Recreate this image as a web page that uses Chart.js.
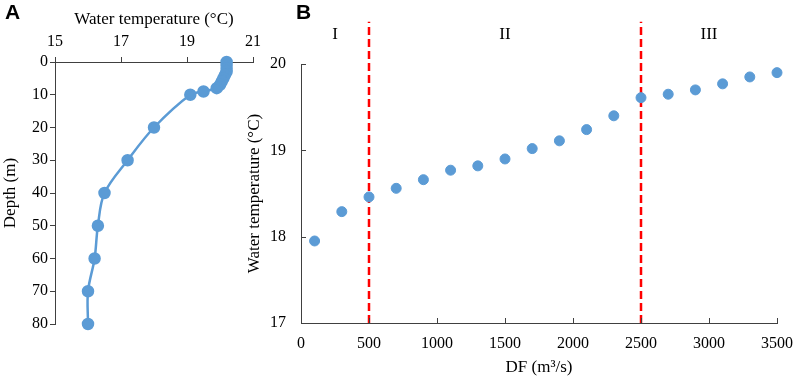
<!DOCTYPE html>
<html>
<head>
<meta charset="utf-8">
<script src="https://cdn.jsdelivr.net/npm/chart.js@4.4.1/dist/chart.umd.min.js"></script>
<style>
  html, body { margin: 0; padding: 0; background: #fff; }
  #wrap { position: relative; width: 796px; height: 378px; overflow: hidden; }
  #canvasA { position: absolute; left: 0; top: 0; }
  #canvasB { position: absolute; left: 240px; top: 0; }
  .panel { position: absolute; font-family: "Liberation Sans", Arial, sans-serif; font-weight: bold; font-size: 21px; line-height: 1; }
</style>
</head>
<body>
<div id="wrap">
  <canvas id="canvasA" width="280" height="378"></canvas>
  <canvas id="canvasB" width="564" height="378"></canvas>
  <div class="panel" style="left:5px;top:1px;">A</div>
  <div class="panel" style="left:296px;top:1px;">B</div>
</div>
<script>
// panel A: vertical temperature profile
const depthM = [0, 1, 2, 3, 4, 5, 6, 7, 8, 9, 10, 20, 30, 40, 50, 60, 70, 80];
const profileTemp = [20.2, 20.2, 20.2, 20.2, 20.15, 20.1, 20.05, 20.0, 19.9, 19.5, 19.1, 18.0, 17.2, 16.5, 16.3, 16.2, 16.0, 16.0];

// panel B: water temperature vs discharge
const dischargeDF = [100, 300, 500, 700, 900, 1100, 1300, 1500, 1700, 1900, 2100, 2300, 2500, 2700, 2900, 3100, 3300, 3500];
const dischargeTemp = [17.95, 18.29, 18.46, 18.56, 18.66, 18.77, 18.82, 18.90, 19.02, 19.11, 19.24, 19.40, 19.61, 19.65, 19.70, 19.77, 19.85, 19.90];
const breakPoints = [500, 2500];
const regionBounds = [0, 500, 2500, 3500];
const regionLabels = ['I', 'II', 'III'];

const blue = '#5B9BD5';
const axisCol = '#404040';
const serif = '"Liberation Serif", "Times New Roman", serif';
const tickFont = { family: serif, size: 16 };
const titleFont = { family: serif, size: 17 };

// ---------- A ----------
new Chart(document.getElementById('canvasA'), {
    type: 'scatter',
    data: {
        datasets: [{
            data: depthM.map((d, i) => ({ x: profileTemp[i], y: d })),
            showLine: true,
            tension: 0.35,
            borderColor: blue,
            borderWidth: 2.5,
            backgroundColor: blue,
            pointRadius: 5,
            pointHoverRadius: 5,
            clip: false
        }]
    },
    options: {
        responsive: false,
        animation: false,
        layout: { padding: { left: 0, right: 27, top: 0, bottom: 54 } },
        plugins: { legend: { display: false }, tooltip: { enabled: false } },
        scales: {
            x: {
                position: 'top',
                min: 15, max: 21,
                ticks: { stepSize: 2, color: '#000', font: tickFont, padding: 6 },
                grid: { drawOnChartArea: false, drawTicks: true, tickLength: 5, color: axisCol },
                border: { display: true, color: axisCol, width: 1 },
                title: { display: true, text: 'Water temperature (°C)', color: '#000', font: titleFont, padding: { top: 9, bottom: 0 } },
                afterFit: s => { s.height = 62; }
            },
            y: {
                reverse: true,
                min: 0, max: 80,
                ticks: { stepSize: 10, color: '#000', font: tickFont, padding: 2 },
                grid: { drawOnChartArea: false, drawTicks: true, tickLength: 5, color: axisCol },
                border: { display: true, color: axisCol, width: 1 },
                title: { display: true, text: 'Depth (m)', color: '#000', font: titleFont, padding: { top: 0, bottom: 0 } },
                afterFit: s => { s.width = 55; }
            }
        }
    }
});

// ---------- B ----------
const innerTicks = {
    id: 'innerTicks',
    afterDraw(chart) {
        const ctx = chart.ctx, xs = chart.scales.x, ys = chart.scales.y;
        ctx.save();
        ctx.strokeStyle = axisCol;
        ctx.lineWidth = 1;
        ctx.beginPath();
        xs.ticks.forEach(t => {
            const px = Math.round(xs.getPixelForValue(t.value)) + 0.5;
            ctx.moveTo(px, ys.bottom);
            ctx.lineTo(px, ys.bottom - 5);
        });
        ys.ticks.forEach(t => {
            const py = Math.round(ys.getPixelForValue(t.value)) + 0.5;
            ctx.moveTo(xs.left, py);
            ctx.lineTo(xs.left + 5, py);
        });
        ctx.stroke();
        // region labels
        ctx.fillStyle = '#000';
        ctx.font = '17px ' + serif;
        ctx.textAlign = 'center';
        ctx.textBaseline = 'middle';
        regionLabels.forEach((lab, i) => {
            const mid = (regionBounds[i] + regionBounds[i + 1]) / 2;
            ctx.fillText(lab, xs.getPixelForValue(mid), ys.getPixelForValue(20.34));
        });
        ctx.restore();
    }
};

const dashSets = breakPoints.map(b => ({
    type: 'line',
    data: [{ x: b, y: 17 }, { x: b, y: 20.49 }],
    borderColor: '#FF0000',
    borderWidth: 2.5,
    borderDash: [8, 4],
    pointRadius: 0,
    clip: false,
    order: 2
}));

new Chart(document.getElementById('canvasB'), {
    type: 'scatter',
    data: {
        datasets: [{
            data: dischargeDF.map((d, i) => ({ x: d, y: dischargeTemp[i] })),
            backgroundColor: blue,
            borderColor: blue,
            pointRadius: 5,
            pointHoverRadius: 5,
            clip: false,
            order: 1
        }].concat(dashSets)
    },
    options: {
        responsive: false,
        animation: false,
        layout: { padding: { left: 0, right: 27, top: 64, bottom: 0 } },
        plugins: { legend: { display: false }, tooltip: { enabled: false } },
        scales: {
            x: {
                type: 'linear',
                min: 0, max: 3500,
                ticks: { stepSize: 500, color: '#000', font: tickFont, padding: 11, callback: v => String(v) },
                grid: { drawOnChartArea: false, drawTicks: false },
                border: { display: true, color: axisCol, width: 1 },
                title: { display: true, text: 'DF (m³/s)', color: '#000', font: titleFont, padding: { top: 0, bottom: 0 } },
                afterFit: s => { s.height = 55; }
            },
            y: {
                min: 17, max: 20,
                ticks: { stepSize: 1, color: '#000', font: tickFont, padding: 15 },
                grid: { drawOnChartArea: false, drawTicks: false },
                border: { display: true, color: axisCol, width: 1 },
                title: { display: true, text: 'Water temperature (°C)', color: '#000', font: titleFont, padding: { top: 4, bottom: 0 } },
                afterFit: s => { s.width = 61; }
            }
        }
    },
    plugins: [innerTicks]
});
</script>
</body>
</html>
